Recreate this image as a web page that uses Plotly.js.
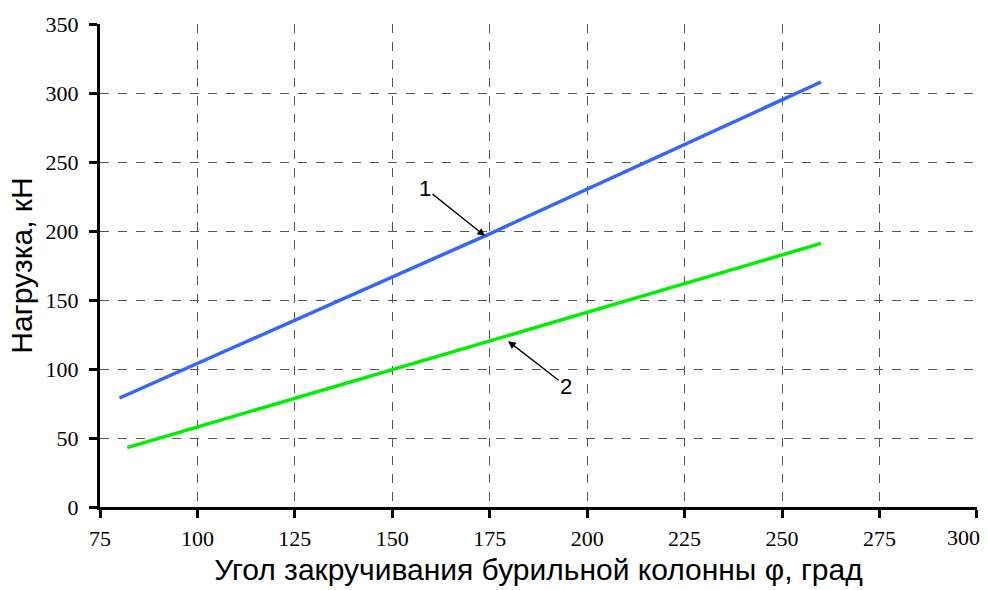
<!DOCTYPE html>
<html>
<head>
<meta charset="utf-8">
<script src="https://cdn.plot.ly/plotly-3.0.1.min.js"></script>
<style>html,body{margin:0;padding:0;background:#fff;}#chart{width:988px;height:590px;}</style>
</head>
<body>
<div id="chart"></div>
<script>
// Data
const angle1 = [80, 175, 260];
const load1 = [79, 198, 308];
const angle2 = [82, 175, 260];
const load2 = [43, 120, 191];
const xTicks = [75, 100, 125, 150, 175, 200, 225, 250, 275, 300];
const yTicks = [0, 50, 100, 150, 200, 250, 300, 350];
const xTitle = 'Угол закручивания бурильной колонны φ, град';
const yTitle = 'Нагрузка, кН';
const curveLabels = ['1', '2'];

const lastX = xTicks[xTicks.length - 1];
// the last x label is drawn as an annotation, right-aligned so it stays inside the picture (as in the reference)
const xTickText = xTicks.map((v, i) => i === xTicks.length - 1 ? '' : String(v));

const tickFont = {family: 'Liberation Serif, Times New Roman, serif', size: 22, color: '#000'};
const sansFont = 'Liberation Sans, Arial, sans-serif';

const traces = [
  {x: angle1, y: load1, mode: 'lines', line: {color: '#3366ff', width: 3.5}, hoverinfo: 'skip'},
  {x: angle2, y: load2, mode: 'lines', line: {color: '#00ee00', width: 3.5}, hoverinfo: 'skip'}
];

const axisCommon = {
  showline: true, linecolor: '#000', linewidth: 3,
  ticks: 'outside', ticklen: 8, tickwidth: 3, tickcolor: '#000',
  showgrid: true, gridcolor: '#555', gridwidth: 1, griddash: 'dash',
  zeroline: false, mirror: false,
  tickfont: tickFont
};

const layout = {
  width: 988, height: 590,
  margin: {l: 100, r: 11, t: 24, b: 83},
  paper_bgcolor: '#fff', plot_bgcolor: '#fff',
  showlegend: false,
  xaxis: Object.assign({}, axisCommon, {
    range: [75, 300.02], tickmode: 'array', tickvals: xTicks, ticktext: xTickText,
    ticklabelstandoff: 2, ticklabeloverflow: 'allow',
    title: {text: xTitle, font: {family: sansFont, size: 30, color: '#000'}, standoff: 9}
  }),
  yaxis: Object.assign({}, axisCommon, {
    range: [0, 350.02], tickmode: 'array', tickvals: yTicks, ticktext: yTicks.map(String),
    ticklabelstandoff: 6,
    title: {text: yTitle, font: {family: sansFont, size: 30, color: '#000'}, standoff: 5}
  }),
  annotations: [
    {x: lastX, y: 0, xref: 'x', yref: 'y', text: String(lastX), showarrow: false,
     xanchor: 'right', yanchor: 'top', xshift: 5, yshift: -16, font: tickFont},
    {x: 173.8, y: 196.3, xref: 'x', yref: 'y', text: curveLabels[0], ax: -60, ay: -48,
     showarrow: true, arrowhead: 2, arrowsize: 1.2, arrowwidth: 1.3, arrowcolor: '#000',
     font: {family: sansFont, size: 22, color: '#000'}},
    {x: 179.7, y: 120.2, xref: 'x', yref: 'y', text: curveLabels[1], ax: 58, ay: 45,
     showarrow: true, arrowhead: 2, arrowsize: 1.2, arrowwidth: 1.3, arrowcolor: '#000',
     font: {family: sansFont, size: 22, color: '#000'}}
  ]
};

Plotly.newPlot('chart', traces, layout, {staticPlot: true, displayModeBar: false});
</script>
</body>
</html>
